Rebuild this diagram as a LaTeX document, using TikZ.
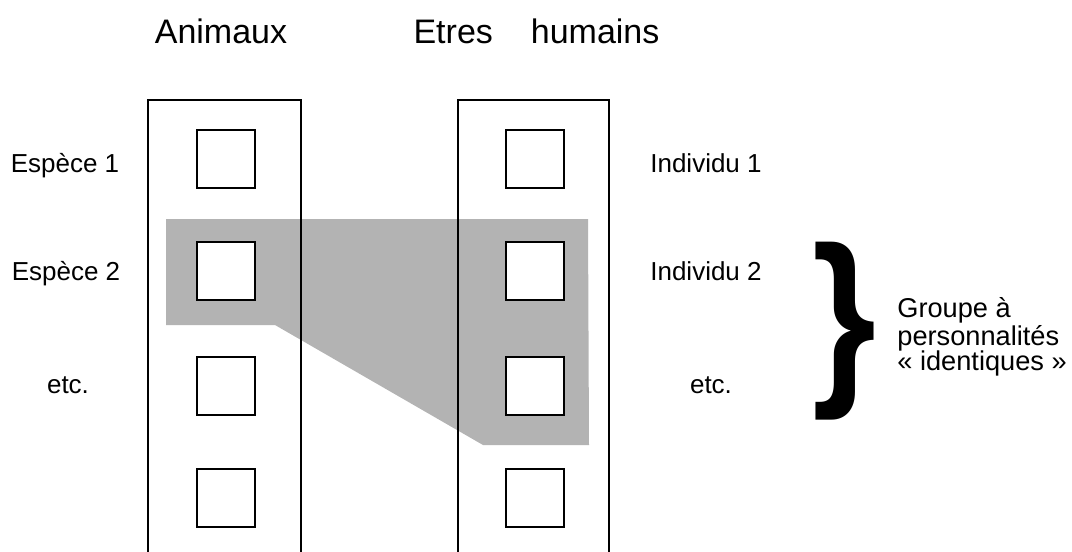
\documentclass[tikz,border=0pt]{standalone}
\usepackage{fontspec}
\setmainfont{Liberation Sans}
\usepackage{graphicx}
\usepackage{tikz}
\usetikzlibrary{positioning,calc}
\definecolor{zonegray}{HTML}{B3B3B3}

\begin{document}
\begin{tikzpicture}[x=0.5pt,y=-0.5pt,font=\fontsize{13}{15}\selectfont]
        \tikzstyle{cell}=[draw,line width=1pt,fill=white,minimum width=29pt,minimum height=29pt,inner sep=0pt]
        \tikzstyle{lbl}=[anchor=base,inner sep=0pt]
        \tikzstyle{hdr}=[anchor=base,inner sep=0pt,font=\fontsize{17}{20}\selectfont]
        \useasboundingbox (0,0) rectangle (1072,552);
        % shaded zone behind the columns
        \fill[zonegray] (166,219) -- (588,219) -- (589,445) -- (483,445) -- (275,325) -- (166,325) -- cycle;
        % the two columns, open at the bottom
        \draw[line width=1pt] (148,560) -- (148,100) -- (300.5,100) -- (300.5,560);
        \draw[line width=1pt] (457.5,560) -- (457.5,100) -- (609,100) -- (609,560);
        % cells
        \foreach \i/\y in {1/158.5,2/271,3/385.5,4/497.5}{
          \node[cell] (a\i) at (226,\y) {};
          \node[cell] (h\i) at (535,\y) {};
        }
        % headers
        \node[hdr] (ta) at (221,43) {Animaux};
        \node[hdr] (th) at (536.5,43) {Etres\hspace{19pt}humains};
        % side labels
        \node[lbl] (e1) at (65,172) {Espèce 1};
        \node[lbl] (e2) at (66,280) {Espèce 2};
        \node[lbl] (e3) at (68,393) {etc.};
        \node[lbl] (i1) at (706,172) {Individu 1};
        \node[lbl] (i2) at (706,280) {Individu 2};
        \node[lbl] (i3) at (711,393) {etc.};
        % brace and group text
        \node[inner sep=0pt] (br) at (844.5,331) {\resizebox*{32pt}{89pt}{\textbf{\}}}};
        \node[anchor=north west,inner sep=0pt,align=left,font=\fontsize{13.6}{12.8}\selectfont] (grp) at (897,297)
          {Groupe à\\personnalités\\« identiques »};
      \end{tikzpicture}
\end{document}
